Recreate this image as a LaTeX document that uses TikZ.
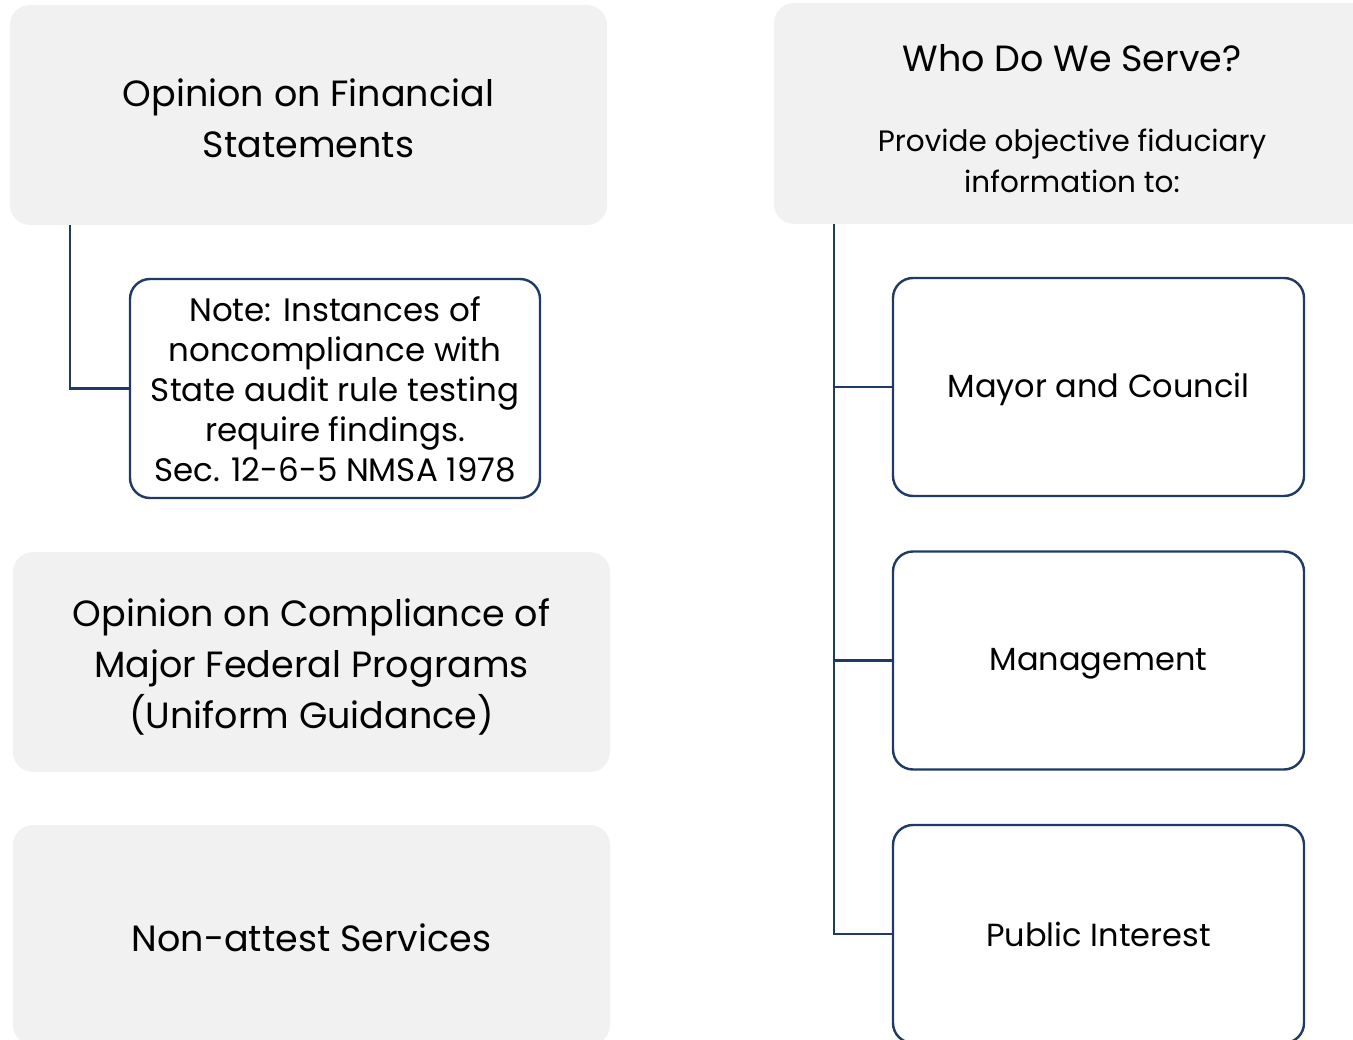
\documentclass[tikz,border=0pt]{standalone}
\usepackage{fontspec}
\setmainfont{Poppins}
\begin{document}
\begin{tikzpicture}[x=1pt,y=-1pt,
  graybox/.style={fill=boxgray,draw=none,rounded corners=20pt,inner sep=0pt},
  whitebox/.style={fill=white,draw=navy,line width=2.4pt,rounded corners=20pt,inner sep=0pt},
  conn/.style={draw=navy,line width=2.4pt},
  txt/.style={align=center,inner sep=0pt,text=black}]
\definecolor{boxgray}{HTML}{F1F1F1}
\definecolor{navy}{HTML}{1F3A64}
\useasboundingbox (0,0) rectangle (1353,1040);
\clip (0,0) rectangle (1353,1040);
% left column
\node[graybox,minimum width=597pt,minimum height=220pt] (fin) at (308.5,115) {};
\node[txt,font=\fontsize{36.5}{51}\selectfont] (fint) at (308.5,118) {Opinion on Financial\\Statements};
\node[whitebox,minimum width=410pt,minimum height=219pt] (note) at (335,388.5) {};
\node[txt,font=\fontsize{32.5}{40}\selectfont] (notet) at (335,389) {Note: Instances of\\noncompliance with\\State audit rule testing\\require findings.\\Sec. 12-6-5 NMSA 1978};
\draw[conn] ([xshift=60pt]fin.south west) |- (note.west);
\node[graybox,minimum width=597pt,minimum height=220pt] (comp) at (311.5,662) {};
\node[txt,font=\fontsize{36.5}{51}\selectfont] (compt) at (311.5,667) {Opinion on Compliance of\\Major Federal Programs\\(Uniform Guidance)};
\node[graybox,minimum width=597pt,minimum height=220pt] (non) at (311.5,935) {};
\node[txt,font=\fontsize{36.5}{51}\selectfont] (nont) at (311.5,938) {Non-attest Services};
% right column
\node[graybox,minimum width=600pt,minimum height=221pt] (who) at (1074,113.5) {};
\node[txt,font=\fontsize{36.5}{40}\selectfont] (whot) at (1072,58) {Who Do We Serve?};
\node[txt,font=\fontsize{29.5}{41}\selectfont] (provt) at (1072,161) {Provide objective fiduciary\\information to:};
\node[whitebox,minimum width=411pt,minimum height=218pt] (m1) at (1098.5,387) {};
\node[txt,font=\fontsize{32}{40}\selectfont] (m1t) at (1098.5,389) {Mayor and Council};
\node[whitebox,minimum width=411pt,minimum height=218pt] (m2) at (1098.5,660.5) {};
\node[txt,font=\fontsize{32}{40}\selectfont] (m2t) at (1098.5,664) {Management};
\node[whitebox,minimum width=411pt,minimum height=218pt] (m3) at (1098.5,934) {};
\node[txt,font=\fontsize{32}{40}\selectfont] (m3t) at (1098.5,934) {Public Interest};
\coordinate (trunk) at ([xshift=60pt]who.south west);
\draw[conn] (trunk) |- (m3.west);
\draw[conn] (m1.west) -- (m1.west -| trunk);
\draw[conn] (m2.west) -- (m2.west -| trunk);
\end{tikzpicture}
\end{document}
